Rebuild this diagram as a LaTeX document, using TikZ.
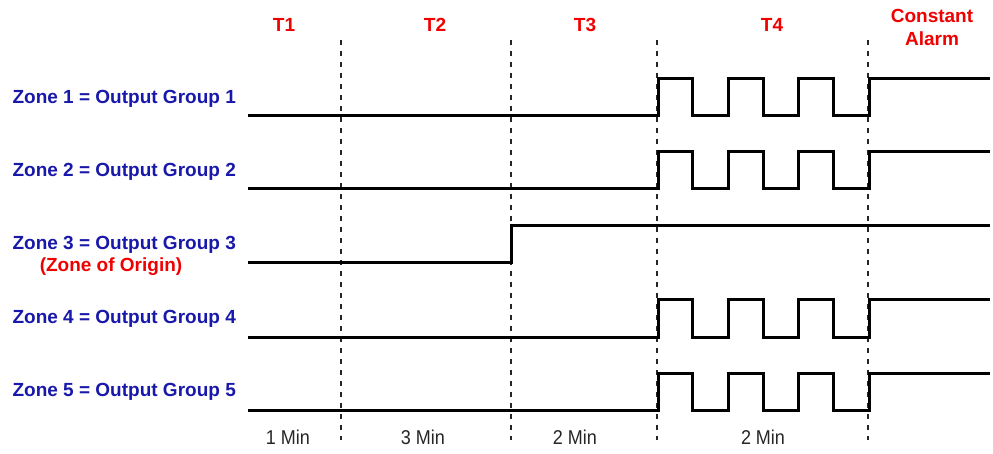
\documentclass[tikz,border=0pt]{standalone}
\usepackage{fontspec}
\setmainfont{Liberation Sans}
\newfontfamily\durfont[FakeStretch=0.9]{Liberation Sans}
\definecolor{zoneblue}{RGB}{24,24,170}
\definecolor{alarmred}{RGB}{240,0,0}
\begin{document}
\begin{tikzpicture}[x=1pt,y=-1pt,
  wave/.style={line width=3pt, line join=miter, line cap=butt},
  divider/.style={line width=1.1pt, dash pattern=on 5pt off 6pt, black!85},
  zonelbl/.style={text=zoneblue, font=\fontsize{19}{22}\selectfont\bfseries, anchor=east, inner sep=0pt},
  originlbl/.style={text=alarmred, font=\fontsize{19}{22}\selectfont\bfseries, inner sep=0pt},
  phaselbl/.style={text=alarmred, font=\fontsize{19}{23}\selectfont\bfseries, align=center, inner sep=0pt},
  durlbl/.style={text=black!85, font=\durfont\fontsize{20}{22}\selectfont, inner sep=0pt}]
\useasboundingbox (0,0) rectangle (993,454);

% dividers
\foreach \x/\n in {341/a,511/b,657/c,868/d}{
  \coordinate (top\n) at (\x,40);
  \coordinate (bot\n) at (\x,440);
  \draw[divider] (top\n) -- (bot\n);
}

% phase labels
\node[phaselbl] (t1) at (284,25) {T1};
\node[phaselbl] (t2) at (435,25) {T2};
\node[phaselbl] (t3) at (585,25) {T3};
\node[phaselbl] (t4) at (772,25) {T4};
\node[phaselbl] (ca) at (932,27) {Constant\\Alarm};

% zone labels
\node[zonelbl] (z1) at (236,99)  {Zone 1 = Output Group 1};
\node[zonelbl] (z2) at (236,172) {Zone 2 = Output Group 2};
\node[zonelbl] (z3) at (236,245) {Zone 3 = Output Group 3};
\node[originlbl] (zo) at (111,267) {(Zone of Origin)};
\node[zonelbl] (z4) at (236,319) {Zone 4 = Output Group 4};
\node[zonelbl] (z5) at (236,392) {Zone 5 = Output Group 5};

% pulsing waveforms
\foreach \L in {116,189,337,410}{
  \pgfmathsetmacro{\H}{\L-37}
  \draw[wave] (248,\L) -- (658,\L) -- (658,\H) -- (692,\H) -- (692,\L)
    -- (728,\L) -- (728,\H) -- (763,\H) -- (763,\L)
    -- (798,\L) -- (798,\H) -- (833,\H) -- (833,\L)
    -- (869,\L) -- (869,\H) -- (990,\H);
}
% zone of origin waveform
\draw[wave] (248,263) -- (511,263) -- (511,226) -- (990,226);

% durations
\node[durlbl] (d1) at (288,437) {1 Min};
\node[durlbl] (d2) at (423,437) {3 Min};
\node[durlbl] (d3) at (575,437) {2 Min};
\node[durlbl] (d4) at (763,437) {2 Min};
\end{tikzpicture}
\end{document}
